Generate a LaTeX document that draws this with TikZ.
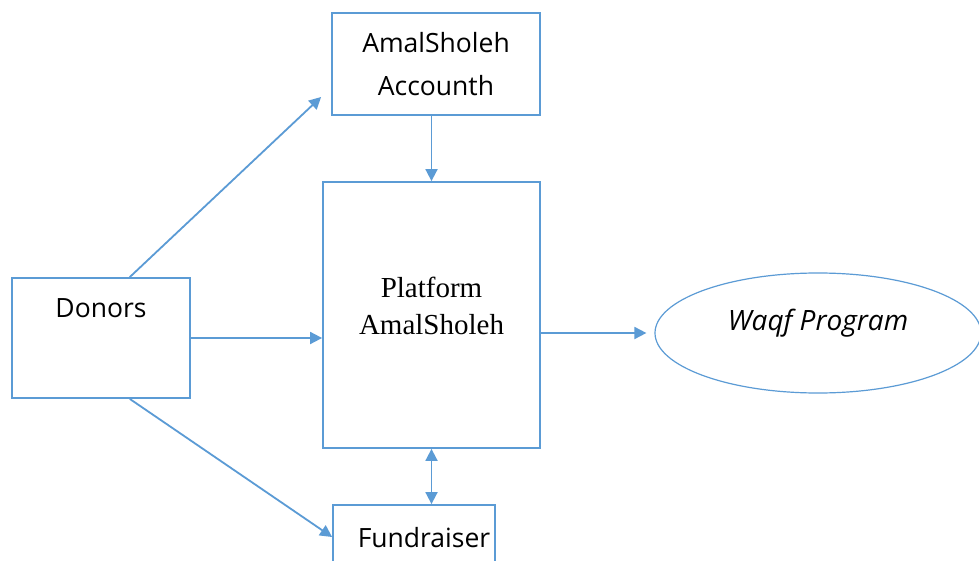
\documentclass[tikz,border=0pt]{standalone}
\usepackage{fontspec}
\setmainfont{Open Sans}
\newfontfamily\serifA{Liberation Serif}
\usetikzlibrary{arrows.meta,calc,shapes.geometric}
\definecolor{lineblue}{HTML}{5B9BD5}
\begin{document}
\begin{tikzpicture}[x=1pt,y=-1pt,
  box/.style={draw=lineblue, line width=1.8pt, inner sep=0pt, rectangle},
  conn/.style={draw=lineblue, line width=1.8pt, -{Triangle[length=12pt,width=12pt]}},
  dconn/.style={draw=lineblue, line width=1.8pt, {Triangle[length=12pt,width=12pt]}-{Triangle[length=12pt,width=12pt]}},
  sans/.style={font=\fontsize{26.5}{43}\selectfont},
  serif/.style={font=\serifA\fontsize{29}{37}\selectfont}]
\clip (0,0) rectangle (979,561);
\fill[white] (0,0) rectangle (979,561);
\node[box, sans, align=center, minimum width=208pt, minimum height=102pt] (acc) at (436,64) {AmalSholeh\\Accounth};
\node[box, minimum width=217pt, minimum height=266pt,
  label={[serif, align=center, yshift=9pt, name=platT]center:Platform\\AmalSholeh}] (plat) at (431.5,315) {};
\node[box, minimum width=178pt, minimum height=120pt,
  label={[sans, yshift=30pt, name=donT]center:Donors}] (donors) at (101,338) {};
\node[box, minimum width=162pt, minimum height=70pt,
  label={[sans, xshift=10pt, yshift=2pt, name=fundT]center:Fundraiser}] (fund) at (414,540) {};
\node[ellipse, draw=lineblue, line width=1.2pt, inner sep=0pt, minimum width=326pt, minimum height=120pt,
  label={[font=\fontsize{28}{43}\selectfont\itshape, yshift=10pt, name=waqfT]center:Waqf Program}] (waqf) at (818,333) {};
\draw[conn] ($(donors.north west)!0.66!(donors.north east)$) -- ($(acc.west)+(-10,33)$);
\draw[conn] (donors.east) -- (donors.east -| plat.west);
\draw[conn] ($(donors.south west)!0.66!(donors.south east)$) -- ($(fund.west)+(0,-3)$);
\draw[conn] (plat.north |- acc.south) -- (plat.north);
\draw[conn] (waqf.west -| plat.east) -- ($(waqf.west)+(-8,0)$);
\draw[dconn] (plat.south) -- (plat.south |- fund.north);
\end{tikzpicture}
\end{document}
